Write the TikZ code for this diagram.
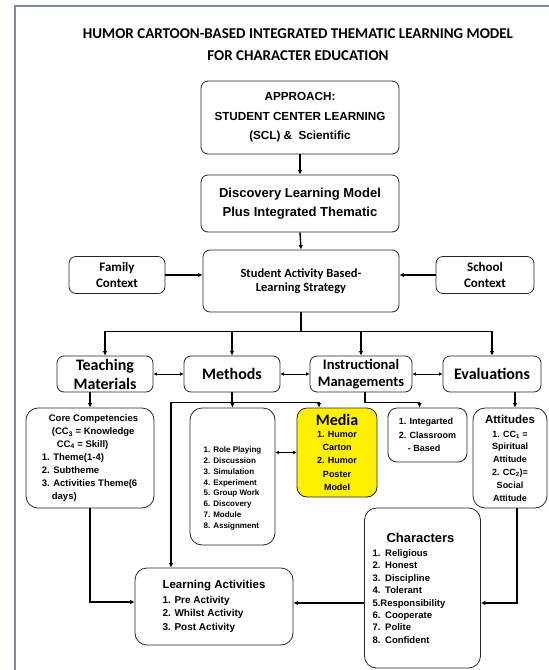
\documentclass[tikz,border=0pt]{standalone}
\usepackage{fontspec}
\setmainfont{Liberation Sans}
\newfontfamily\calfont{Carlito}
\usetikzlibrary{arrows.meta,calc}
\definecolor{framegray}{RGB}{120,140,168}
\definecolor{mediayellow}{RGB}{255,240,0}
\newcommand{\fsz}[2]{\fontsize{#1}{#2}\selectfont}
\tikzset{
    box/.style={draw=black!85, line width=0.8pt, rounded corners=7pt, align=center, inner sep=1pt},
    bigbox/.style={box, rounded corners=12pt},
    head/.style={font=\calfont\bfseries},
    arr/.style={line width=1.4pt, -{Latex[length=4.5pt,width=4.5pt]}},
    darr/.style={line width=0.8pt, {Latex[length=3.5pt,width=3.5pt]}-{Latex[length=3.5pt,width=3.5pt]}},
}
\begin{document}
\begin{tikzpicture}[x=1pt,y=-1pt]
                \useasboundingbox (0,0) rectangle (549,670);
                %% frame
                \draw[framegray,line width=1.5pt] (15,670) -- (15,6) -- (549,6);
                %% title
                \node[head, font=\calfont\bfseries\fsz{15}{22}, align=center] (title) at (298,45)
                    {HUMOR CARTOON-BASED INTEGRATED THEMATIC LEARNING MODEL\\FOR CHARACTER EDUCATION};
                %% top chain
                \node[box, minimum width=198pt, minimum height=73pt, font=\bfseries\fsz{11.7}{19.5}] (approach) at (300,117.5)
                    {APPROACH:\\STUDENT CENTER LEARNING\\(SCL) \& \ Scientific};
                \node[box, minimum width=198pt, minimum height=57pt, font=\bfseries\fsz{13}{19}] (discovery) at (300,203.5)
                    {Discovery Learning Model\\Plus Integrated Thematic};
                \node[box, minimum width=196pt, minimum height=62pt, head, font=\calfont\bfseries\fsz{12.5}{14.5}] (student) at (301,281)
                    {Student Activity Based-\\Learning Strategy};
                \node[box, minimum width=96pt, minimum height=37pt, head, font=\calfont\bfseries\fsz{13}{16}] (family) at (117,275) {Family\\Context};
                \node[box, minimum width=98pt, minimum height=37pt, head, font=\calfont\bfseries\fsz{13}{16}] (school) at (485,275) {School\\Context};
                %% second row
                \node[box, minimum width=96pt, minimum height=36pt, font=\calfont\bfseries\fsz{16}{19}] (teaching) at (105,374) {Teaching\\Materials};
                \node[box, minimum width=96pt, minimum height=36pt, font=\calfont\bfseries\fsz{16}{19}] (methods) at (232,374) {Methods};
                \node[box, minimum width=102pt, minimum height=36pt, font=\calfont\bfseries\fsz{14.5}{17}] (instr) at (361,374) {Instructional\\Managements};
                \node[box, minimum width=98pt, minimum height=36pt, font=\calfont\bfseries\fsz{16}{19}] (evals) at (492,374) {Evaluations};
                %% third row
                \node[bigbox, minimum width=128pt, minimum height=100pt, align=left, font=\bfseries\fsz{9.5}{13}] (core) at (90,458)
                    {\hspace*{7pt}Core Competencies\\
                     \hspace*{10pt}(CC\textsubscript{3} = Knowledge\\
                     \hspace*{15pt}CC\textsubscript{4} = Skill)\\
                     1. Theme(1-4)\\
                     2. Subtheme\\
                     3. Activities Theme(6\\
                     \hspace*{10pt}days)};
                \node[bigbox, minimum width=85pt, minimum height=137pt] (methlist) at (232.5,476.5) {};
                \node[align=left, inner sep=0pt, font=\bfseries\fsz{8}{10.8}] (methtxt) at ([yshift=-12pt]methlist.center)
                    {1. Role Playing\\2. Discussion\\3. Simulation\\4. Experiment\\5. Group Work\\6. Discovery\\7. Module\\8. Assignment};
                \node[box, fill=mediayellow, rounded corners=10pt, minimum width=80pt, minimum height=89pt, font=\bfseries\fsz{9}{13.3}] (media) at (337,452.5)
                    {{\calfont\fsz{16}{16}Media}\\[-2pt]1. Humor\\Carton\\2. Humor\\Poster\\Model};
                \node[box, rounded corners=9pt, minimum width=79pt, minimum height=54pt, align=left, font=\bfseries\fsz{9}{13.5}] (integ) at (427.5,435)
                    {1. Integarted\\2. Classroom\\\hspace*{9pt}- Based};
                \node[bigbox, minimum width=74pt, minimum height=100pt, font=\bfseries\fsz{9}{12.8}] (attit) at (510,458)
                    {{\fsz{11.5}{13}Attitudes}\\[1pt]1. CC\textsubscript{1} =\\Spiritual\\Attitude\\2. CC\textsubscript{2})=\\Social\\Attitude};
                %% bottom row
                \node[bigbox, minimum width=116pt, minimum height=160pt, text width=100pt, inner xsep=8pt, align=left, font=\bfseries\fsz{9.5}{12.4}] (charac) at (422.5,588)
                    {\hspace*{14pt}{\fsz{13}{15}Characters}\\[2pt]
                     1. Religious\\2. Honest\\3. Discipline\\4. Tolerant\\5.Responsibility\\6. Cooperate\\7. Polite\\8. Confident};
                \node[bigbox, minimum width=158pt, minimum height=77pt, align=left, font=\bfseries\fsz{10}{13.5}] (learning) at (214,606.5)
                    {{\fsz{11.5}{13}Learning Activities}\\[1pt]
                     \makebox[12pt][l]{1.}Pre Activity\\
                     \makebox[12pt][l]{2.}Whilst Activity\\
                     \makebox[12pt][l]{3.}Post Activity};
                %% connectors
                \draw[arr] (approach.south) -- (discovery.north);
                \draw[arr] (discovery.south) -- (student.north);
                \draw[arr] (family.east) -- (family.east -| student.west);
                \draw[arr] (school.west) -- (school.west -| student.east);
                \coordinate (bus) at ($(student.south)+(0,19)$);
                \foreach \n in {teaching,methods,instr,evals}
                    \draw[arr] (student.south) -- (bus) -| (\n.north);
                \foreach \a/\b in {teaching/methods,methods/instr,instr/evals}
                    \draw[darr] (\a.east) -- (\b.west);
                \draw[arr] (core.north |- teaching.south) -- (core.north);
                \draw[arr] (methods.south) -- (methlist.north);
                \draw[arr] (methods.south) -- ++(0,10) -| ([xshift=-18pt]media.north);
                \draw[arr] (methods.south) -- ++(0,10) -| ([xshift=-43pt]learning.north);
                \draw[darr] (media.west -| methlist.east) -- (media.west);
                \draw[arr] ([xshift=4pt]instr.south) -- ++(0,10) -| ([xshift=-8pt]integ.north);
                \coordinate (attin) at ([xshift=5pt]attit.north);
                \draw[arr] (attin |- evals.south) -- (attin);
                \draw[arr] ([xshift=7pt]attit.south) |- ([yshift=-15pt]charac.east);
                \coordinate (chout) at ([yshift=-15pt]charac.west);
                \draw[arr] (chout) -- (chout -| learning.east);
                \draw[arr] (core.south) |- ([yshift=4.5pt]learning.west);
\end{tikzpicture}
\end{document}
